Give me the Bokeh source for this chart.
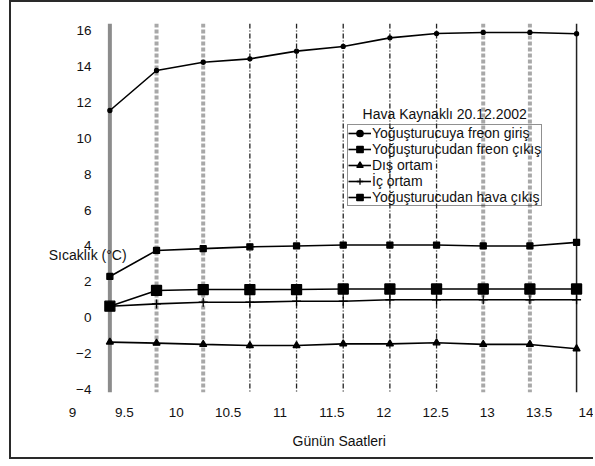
from bokeh.plotting import figure
from bokeh.models import (Span, Legend, LegendItem, Label, FixedTicker, Range1d, Title)
from bokeh.embed import file_html
from bokeh.resources import INLINE

# ---- data ----
hours = [9.36, 9.81, 10.26, 10.71, 11.16, 11.61, 12.06, 12.51, 12.96, 13.41, 13.86]
freon_giris = [11.55, 13.78, 14.24, 14.43, 14.86, 15.12, 15.6, 15.84, 15.9, 15.9, 15.83]
freon_cikis = [0.64, 1.52, 1.57, 1.57, 1.57, 1.6, 1.6, 1.6, 1.6, 1.6, 1.6]
dis_ortam = [-1.36, -1.42, -1.49, -1.55, -1.55, -1.46, -1.46, -1.4, -1.49, -1.49, -1.73]
ic_ortam = [0.64, 0.77, 0.86, 0.86, 0.92, 0.92, 1.0, 1.0, 1.0, 1.0, 1.0]
hava_cikis = [2.3, 3.75, 3.85, 3.95, 4.0, 4.05, 4.05, 4.05, 4.0, 4.0, 4.2]

series_names = ["Yoğuşturucuya freon giriş", "Yoğuşturucudan freon çıkış",
                "Dış ortam", "İç ortam", "Yoğuşturucudan hava çıkış"]
x_ticks = [9, 9.5, 10, 10.5, 11, 11.5, 12, 12.5, 13, 13.5, 14]
y_ticks = [-4, -2, 0, 2, 4, 6, 8, 10, 12, 14, 16]
chart_title = "Hava Kaynaklı 20.12.2002"
x_title = "Günün Saatleri"
y_title = "Sıcaklık (°C)"

FONT = "Liberation Sans"

p = figure(width=584, height=459, output_backend="svg", toolbar_location=None,
           x_range=Range1d(8.749, 14.004), y_range=Range1d(-4.17, 16.4),
           min_border_left=35, min_border_right=4, min_border_top=21,
           min_border_bottom=69)
p.styles = {"margin-left": "9px",
            "border-left": "2px solid #2a2a2a",
            "border-top": "2px solid #2a2a2a",
            "border-bottom": "2px solid #2a2a2a"}
p.outline_line_color = None
p.xgrid.visible = False
p.ygrid.visible = False
p.background_fill_color = "white"
p.border_fill_color = "white"

# axes
p.xaxis.ticker = FixedTicker(ticks=x_ticks)
p.yaxis.ticker = FixedTicker(ticks=y_ticks)
for ax in (p.xaxis[0], p.yaxis[0]):
    ax.axis_line_color = None
    ax.major_tick_line_color = None
    ax.minor_tick_line_color = None
    ax.major_tick_out = 0
    ax.major_tick_in = 0
    ax.major_label_text_font = FONT
    ax.major_label_text_font_size = "13.5px"
    ax.major_label_text_color = "#111111"
p.xaxis.major_label_standoff = 15
p.yaxis.major_label_standoff = -45

p.add_layout(Title(text=x_title, align="left", offset=246, standoff=22,
                   text_font=FONT, text_font_size="14px",
                   text_font_style="normal", text_color="#111111"), "below")

# vertical measurement lines
for i, h in enumerate(hours):
    if i == 0:
        sty = dict(line_color="#8c8c8c", line_width=4, line_dash="solid")
    elif i in (1, 2, len(hours) - 3, len(hours) - 2):
        sty = dict(line_color="#a8a8a8", line_width=4, line_dash="4 2")
    elif i == len(hours) - 1:
        sty = dict(line_color="#222222", line_width=1.5, line_dash="solid")
    else:
        sty = dict(line_color="#222222", line_width=1.3, line_dash="5 2 1 2")
    p.add_layout(Span(location=h, dimension="height", level="underlay", **sty))

# series
series = [freon_giris, freon_cikis, dis_ortam, ic_ortam, hava_cikis]
markers = ["circle", "square", "triangle", "cross", "square"]
msizes = [4, 10, 7, 9, 6]
items = []
for name, vals, mk, ms in zip(series_names, series, markers, msizes):
    ln = p.line(hours, vals, line_color="black", line_width=1.6)
    sc = p.scatter(hours, vals, marker=mk, size=ms, fill_color="black",
                   line_color="black", line_width=1.3)
    items.append(LegendItem(label=name, renderers=[ln, sc]))

legend = Legend(items=items, location=(301, 186))
legend.label_text_font = FONT
legend.label_text_font_size = "14px"
legend.label_text_color = "#111111"
legend.label_height = 16
legend.glyph_height = 16
legend.glyph_width = 23
legend.label_standoff = 1
legend.padding = 0
legend.spacing = 0
legend.margin = 0
legend.border_line_color = "#222222"
legend.border_line_width = 1.5
legend.background_fill_alpha = 0.0
p.add_layout(legend)

p.add_layout(Label(x=11.797, y=11.38, text=chart_title, text_font=FONT,
                   text_font_size="14px", text_baseline="middle",
                   text_color="#111111"))
p.add_layout(Label(x=8.77, y=3.47, text=y_title, text_font=FONT,
                   text_font_size="14px", text_baseline="middle",
                   text_color="#111111"))

open("out.html", "w").write(file_html(p, INLINE))
